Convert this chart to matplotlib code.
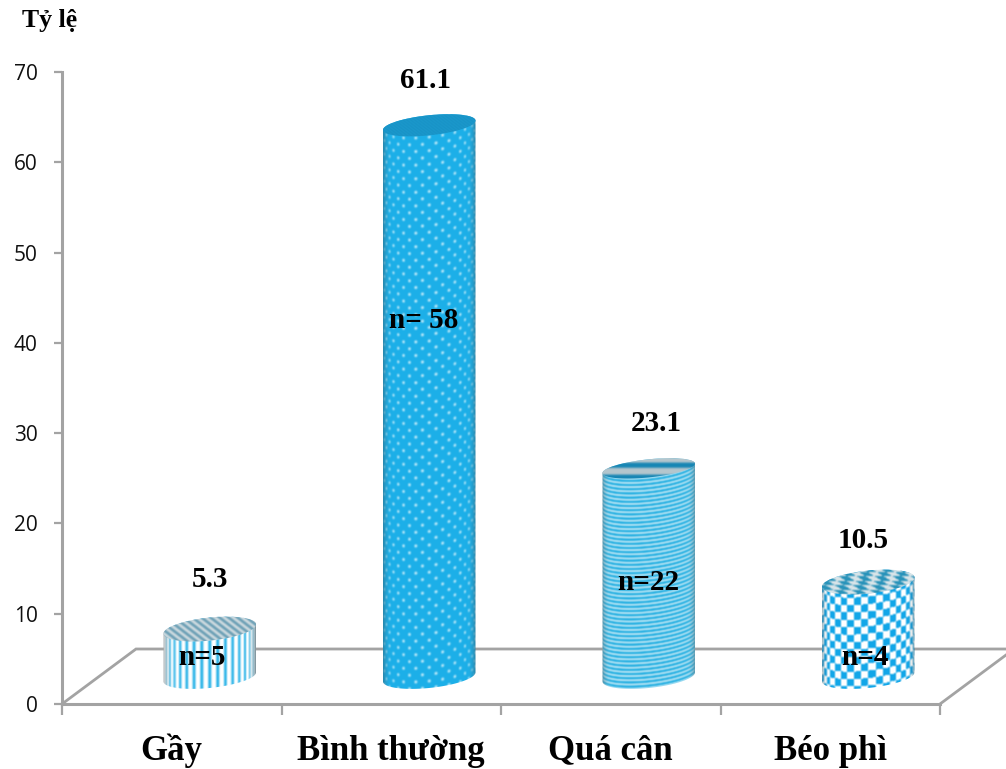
import numpy as np
import matplotlib
matplotlib.use('Agg')
import matplotlib.pyplot as plt
from matplotlib.path import Path
from matplotlib.patches import PathPatch

# Datos del grafico
categorias = ['Gầy', 'Bình thường', 'Quá cân', 'Béo phì']
valores = [5.3, 61.1, 23.1, 10.5]
etiquetasN = ['n=5', 'n= 58', 'n=22', 'n=4']
ticksY = [0, 10, 20, 30, 40, 50, 60, 70]

# Desplazamiento de la etiqueta de valor (pixeles) y posicion de la etiqueta n
offsetValor = [(0, 50), (-4, 45), (7, 45), (-5, 42)]
offsetN = [-8, -5.5, 0, -3]
alturaN = [5.2, 42.5, 13.5, 5.2]
bTapa = [11.5, 10.0, 9.0, 11.5]

GRIS = '#a3a3a3'
SERIF = 'Liberation Serif'
W, H = 1006, 769
PX_X = 878 / 4      # pixeles por categoria
PX_Y = 632 / 70     # pixeles por unidad del eje
DESP_X = 38         # el cilindro va al centro de la profundidad del piso
BASE = 3.0          # altura del centro de la base sobre el frente del piso
RADIO = 46.5
B_BASE = 11.0
TILT = np.radians(6)

fig = plt.figure(figsize=(W / 100, H / 100), dpi=100)
ax = fig.add_axes([62 / W, (H - 704) / H, 878 / W, 632 / H])
fig.patch.set_facecolor('white')
ax.set_xlim(0, 4)
ax.set_ylim(0, 70)


def mezcla(m, c0, c1):
    # m = 0 da c0, m = 1 da c1
    c0 = np.array(matplotlib.colors.to_rgb(c0))
    c1 = np.array(matplotlib.colors.to_rgb(c1))
    return c0 + (c1 - c0) * np.clip(m, 0, 1)[..., None]


def onda(t, periodo, fase=0.0, duro=3.0, centro=0.0):
    return 0.5 + duro * (np.cos(2 * np.pi * (t / periodo + fase)) + centro) / 2


def suavizar(rgb):
    # pasa un filtro pequeno para que la trama no quede tan dura
    k = np.array([0.25, 0.5, 0.25])
    for eje in (0, 1):
        rgb = np.apply_along_axis(lambda s: np.convolve(s, k, mode='same'), eje, rgb)
    return rgb


def texturaLados(i, u, v):
    if i == 0:
        return mezcla(onda(u, 8, 0, 2.2, -0.35), '#ffffff', '#2cb4e8')
    if i == 1:
        fila = np.round(v / 6.8)
        d = np.hypot(((u + 6.8 * (fila % 2)) % 13.6 - 6.8), v - fila * 6.8)
        return mezcla(1.2 - d / 1.9, '#1cafe8', '#d8f3fc')
    if i == 2:
        return mezcla(onda(v, 4.2, 0, 1.5, 0.45), '#f2fafc', '#26b0e2')
    cuadro = (np.floor(u / 7.4) + np.floor(v / 7.4)) % 2
    return mezcla(cuadro, '#ffffff', '#12a6e8')


def texturaTapa(i, x, y):
    if i == 0:
        return mezcla(onda(x + y * 1.3, 9, 0, 2.0, 0.0), '#cfdbe0', '#6b9fb5')
    if i == 1:
        return mezcla(onda(x + y * 1.3, 4, 0, 1.0, 0.0), '#1ea3d8', '#1588ba')
    if i == 2:
        return mezcla(onda(y, 12, 0.1, 2.0, -0.2), '#b4c6cd', '#1786b4')
    cuadro = (np.floor((x + 1.6 * y) / 9) + np.floor(y / 4.4)) % 2
    return mezcla(cuadro, '#d7e4e8', '#2a93ba')


def elipse(cx, cy, b, t):
    # punto de una elipse inclinada; cx, cy en pixeles con y hacia arriba
    px = cx + RADIO * np.cos(t) * np.cos(TILT) - b * np.sin(t) * np.sin(TILT)
    py = cy + RADIO * np.cos(t) * np.sin(TILT) + b * np.sin(t) * np.cos(TILT)
    return px, py


def aData(px, py):
    return px / PX_X, py / PX_Y


def ponerImagen(rgb, x0, x1, y0, y1, patch, zorder):
    patch.set_transform(ax.transData)
    im = ax.imshow(suavizar(rgb), extent=(x0 / PX_X, x1 / PX_X, y0 / PX_Y, y1 / PX_Y),
                   origin='upper', aspect='auto', interpolation='bilinear',
                   zorder=zorder)
    im.set_clip_path(patch)


def cilindro(i, valor):
    cx = (i + 0.5) * PX_X + DESP_X
    yBase = BASE * PX_Y
    yTapa = (BASE + valor) * PX_Y
    bT = bTapa[i]

    # cuerpo: mitad inferior de la base y mitad superior de la tapa
    tInf = np.linspace(np.pi, 2 * np.pi, 60)
    tSup = np.linspace(0, np.pi, 60)
    xA, yA = elipse(cx, yBase, B_BASE, tInf)
    xB, yB = elipse(cx, yTapa, bT, tSup)
    xs, ys = aData(np.r_[xA, xB], np.r_[yA, yB])
    cuerpo = PathPatch(Path(np.c_[xs, ys]), fc='none', ec='none')
    ax.add_patch(cuerpo)

    x0, x1 = np.floor(cx - RADIO - 4), np.ceil(cx + RADIO + 4)
    y0, y1 = np.floor(yBase - B_BASE - 10), np.ceil(yTapa + bT + 10)
    pxX = np.arange(x0, x1) + 0.5
    pxY = np.arange(y1, y0, -1) - 0.5
    gx, gy = np.meshgrid(pxX, pxY)

    xn = np.clip((gx - cx) / RADIO, -0.999, 0.999)
    theta = np.arcsin(xn)
    u = RADIO * theta
    frente = np.sqrt(1 - xn ** 2)
    v = gy + B_BASE * frente - (gx - cx) * np.tan(TILT)
    rgb = texturaLados(i, u, v)
    sombra = 0.72 + 0.28 * np.clip(frente * 2.0, 0, 1)
    cuantoGris = 0.8 if i == 0 else 0.2
    gris = np.clip(1.3 - frente * 2.2, 0, 1)[..., None] * cuantoGris
    rgb = (rgb * (1 - gris) + rgb.mean(axis=2, keepdims=True) * gris)
    rgb = np.clip(rgb * sombra[..., None], 0, 1)
    ponerImagen(rgb, x0, x1, y0, y1, cuerpo, 3)

    # tapa
    t = np.linspace(0, 2 * np.pi, 120)
    xT, yT = aData(*elipse(cx, yTapa, bT, t))
    tapa = PathPatch(Path(np.c_[xT, yT]), fc='none', ec='none')
    ax.add_patch(tapa)
    rgbT = texturaTapa(i, gx, gy)
    ponerImagen(rgbT, x0, x1, y0, y1, tapa, 4)


# Piso: linea trasera y diagonales
prof = 74 / PX_X
ax.plot([0, prof, W / PX_X], [0, 55 / PX_Y, 55 / PX_Y], color=GRIS, lw=2.0,
        clip_on=False, zorder=1, solid_joinstyle='miter')
ax.plot([4, 4 + 66 / PX_X], [0, 49 / PX_Y], color=GRIS, lw=2.0, clip_on=False, zorder=1)

for i, valor in enumerate(valores):
    cilindro(i, valor)

ax.set_xlim(0, 4)
ax.set_ylim(0, 70)
ax.patch.set_alpha(0)

# Ejes
for lado in ['top', 'right']:
    ax.spines[lado].set_visible(False)
for lado in ['left', 'bottom']:
    ax.spines[lado].set_color(GRIS)
    ax.spines[lado].set_linewidth(2.2)
ax.set_yticks(ticksY)
ax.set_xticks(range(5))
ax.set_xticklabels([])
ax.tick_params(axis='both', color=GRIS, width=1.6)
ax.tick_params(axis='y', length=5.5, pad=12, labelsize=15, labelfontfamily='Open Sans',
               labelcolor='#111111')
ax.tick_params(axis='x', length=8)

# Textos
for i, nombre in enumerate(categorias):
    ax.text(i + 0.5, -47 / PX_Y, nombre, ha='center', va='center', family=SERIF,
            fontweight='bold', fontsize=25, color='black', clip_on=False)
    dx, dy = offsetValor[i]
    ax.text(i + 0.5 + (DESP_X + dx) / PX_X, BASE + valores[i] + dy / PX_Y, f'{valores[i]}',
            ha='center', va='center', family=SERIF, fontweight='bold', fontsize=21,
            clip_on=False, zorder=6)
    ax.text(i + 0.5 + (DESP_X + offsetN[i]) / PX_X, alturaN[i], etiquetasN[i],
            ha='center', va='center', family=SERIF, fontweight='bold', fontsize=21,
            clip_on=False, zorder=6)

fig.text(50 / W, 1 - 21 / H, 'Tỷ lệ', ha='center', va='center', family=SERIF,
         fontweight='bold', fontsize=18.5)

plt.savefig('out.png', dpi=100)
plt.close()
